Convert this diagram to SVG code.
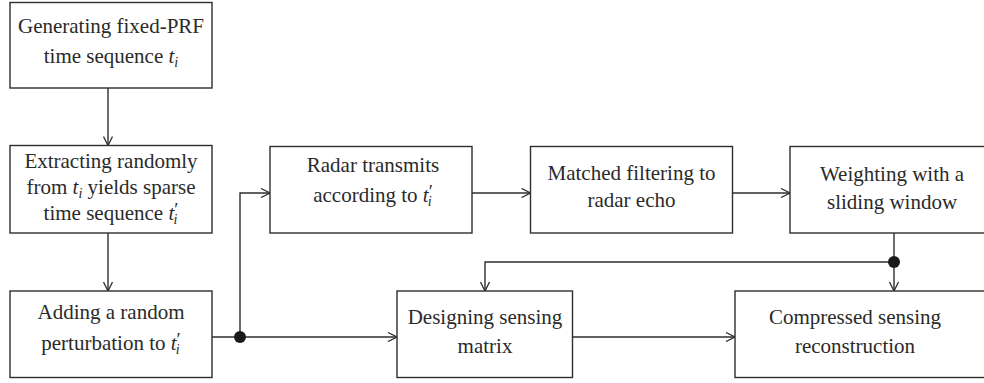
<svg xmlns="http://www.w3.org/2000/svg" width="984" height="383" viewBox="0 0 984 383">
<defs>
<style>
.box{fill:#fff;stroke:#2e2e2e;stroke-width:1.4}
.ln{fill:none;stroke:#2e2e2e;stroke-width:1.4}
.t{font-family:"Liberation Serif",serif;font-size:21px;fill:#2a2a2a;text-anchor:middle}
.it{font-style:italic}
.sb{font-style:italic;font-size:14px}
.pr{font-size:19px}
</style>
<marker id="ar" viewBox="0 0 10 10" refX="10" refY="5" markerWidth="10" markerHeight="10" markerUnits="userSpaceOnUse" orient="auto">
<path d="M1,0.5 L10,5 L1,9.5" fill="none" stroke="#2e2e2e" stroke-width="1.3"/>
</marker>
</defs>
<rect width="984" height="383" fill="#fff"/>
<g id="connectors">
<line class="ln" x1="108" y1="88" x2="108" y2="145.5" marker-end="url(#ar)"/>
<line class="ln" x1="108" y1="233" x2="108" y2="291" marker-end="url(#ar)"/>
<line class="ln" x1="212" y1="337" x2="397" y2="337" marker-end="url(#ar)"/>
<polyline class="ln" points="240,337 240,193 270,193" marker-end="url(#ar)"/>
<line class="ln" x1="472" y1="193" x2="530.5" y2="193" marker-end="url(#ar)"/>
<line class="ln" x1="732.5" y1="193" x2="790" y2="193" marker-end="url(#ar)"/>
<line class="ln" x1="894" y1="233" x2="894" y2="291" marker-end="url(#ar)"/>
<polyline class="ln" points="894,262 485,262 485,291" marker-end="url(#ar)"/>
<line class="ln" x1="572.5" y1="337" x2="735" y2="337" marker-end="url(#ar)"/>
<circle cx="240" cy="337" r="6" fill="#1a1a1a"/>
<circle cx="894" cy="262" r="6" fill="#1a1a1a"/>
</g>
<g id="n1">
<rect class="box" x="10" y="2.5" width="202" height="85.5"/>
<text class="t" x="111" y="33">Generating fixed-PRF</text>
<text class="t" x="111" y="63">time sequence <tspan class="it">t</tspan><tspan class="sb" dy="4">i</tspan></text>
</g>
<g id="n2">
<rect class="box" x="10" y="145.5" width="202" height="87.5"/>
<text class="t" x="111" y="168">Extracting randomly</text>
<text class="t" x="111" y="194">from <tspan class="it">t</tspan><tspan class="sb" dy="4">i</tspan><tspan dy="-4"> yields sparse</tspan></text>
<text class="t" x="111" y="220">time sequence <tspan class="it">t</tspan><tspan class="pr" dy="-4">′</tspan><tspan class="sb" dx="-5" dy="8">i</tspan></text>
</g>
<g id="n3">
<rect class="box" x="10" y="291" width="202" height="86.5"/>
<text class="t" x="111" y="319">Adding a random</text>
<text class="t" x="111" y="350">perturbation to <tspan class="it">t</tspan><tspan class="pr" dy="-4">′</tspan><tspan class="sb" dx="-5" dy="8">i</tspan></text>
</g>
<g id="n4">
<rect class="box" x="270" y="146.5" width="202" height="86.5"/>
<text class="t" x="373" y="172">Radar transmits</text>
<text class="t" x="373" y="202">according to <tspan class="it">t</tspan><tspan class="pr" dy="-4">′</tspan><tspan class="sb" dx="-5" dy="8">i</tspan></text>
</g>
<g id="n5">
<rect class="box" x="530.5" y="146.5" width="202" height="86.5"/>
<text class="t" x="631.5" y="180">Matched filtering to</text>
<text class="t" x="631.5" y="207">radar echo</text>
</g>
<g id="n6">
<rect class="box" x="790" y="146.5" width="205" height="86.5"/>
<text class="t" x="892" y="181">Weighting with a</text>
<text class="t" x="892" y="209">sliding window</text>
</g>
<g id="n7">
<rect class="box" x="397" y="291" width="175.5" height="86.5"/>
<text class="t" x="485" y="324">Designing sensing</text>
<text class="t" x="485" y="353">matrix</text>
</g>
<g id="n8">
<rect class="box" x="735" y="291" width="260" height="86.5"/>
<text class="t" x="855" y="324">Compressed sensing</text>
<text class="t" x="855" y="353">reconstruction</text>
</g>
</svg>
